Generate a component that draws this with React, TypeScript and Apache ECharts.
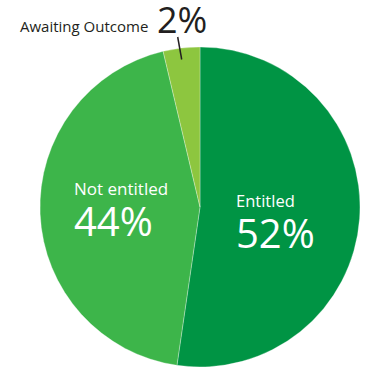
import React, { useEffect, useRef } from "react";
import * as echarts from "echarts";

const categories = ["Entitled", "Not entitled", "Awaiting Outcome"];
const sliceValues = [52.3, 44.0, 3.7];
const percentLabels = ["52%", "44%", "2%"];
const colors = ["#009444", "#3db54a", "#8dc63f"];

const FONT = "'Open Sans', sans-serif";

export default function App() {
  const ref = useRef<HTMLDivElement>(null);
  useEffect(() => {
    if (!ref.current) return;
    const chart = echarts.init(ref.current, undefined, { renderer: "svg" });
    const txt = (text: string, x: number, y: number, size: number, fill: string) => ({
      type: "text",
      x,
      y,
      z: 100,
      style: { text, fill, font: `${size}px ${FONT}`, verticalAlign: "middle" },
    });
    chart.setOption({
      animation: false,
      backgroundColor: "#ffffff",
      series: [
        {
          type: "pie",
          center: [200, 207],
          radius: [0, 160],
          startAngle: 90,
          clockwise: true,
          label: { show: false },
          labelLine: { show: false },
          itemStyle: { borderColor: "#ffffff", borderWidth: 0.3 },
          data: categories.map((name, i) => ({
            name,
            value: sliceValues[i],
            itemStyle: { color: colors[i] },
          })),
        },
      ],
      graphic: [
        txt(categories[0], 236, 200, 16.5, "#ffffff"),
        txt(percentLabels[0], 236, 232.5, 40, "#ffffff"),
        txt(categories[1], 74, 188.6, 17, "#ffffff"),
        txt(percentLabels[1], 74, 220.5, 40, "#ffffff"),
        txt(categories[2], 20, 25.7, 15, "#231f20"),
        txt(percentLabels[2], 157, 19, 36, "#231f20"),
        {
          type: "line",
          z: 100,
          shape: { x1: 177.7, y1: 37, x2: 181.7, y2: 59.5 },
          style: { stroke: "#231f20", lineWidth: 1.5 },
        },
      ],
    });
    return () => chart.dispose();
  }, []);
  return <div ref={ref} style={{ width: 366, height: 368, position: "absolute", left: 0, top: 0 }} />;
}
